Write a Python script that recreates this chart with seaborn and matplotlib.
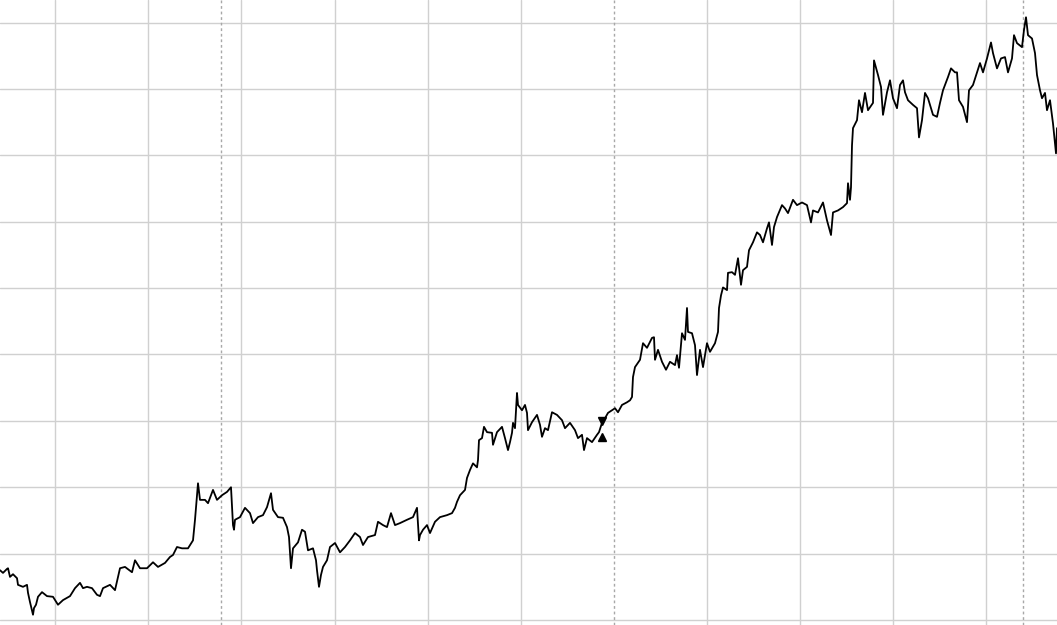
import numpy as np
import matplotlib
matplotlib.use("Agg")
import matplotlib.pyplot as plt
import seaborn as sns

# trading day index and closing value
days = [0, 3, 7, 8, 10, 13, 17, 18, 23, 27, 28, 30, 33, 34, 36, 38, 42, 47, 53, 58,
        63, 70, 75, 80, 83, 87, 92, 97, 100, 103, 110, 115, 120, 125, 132, 135, 140, 147, 153, 158,
        165, 170, 173, 177, 182, 188, 193, 195, 197, 198, 200, 205, 208, 213, 217, 222, 227, 231, 233, 234,
        235, 240, 245, 250, 253, 258, 263, 267, 271, 273, 278, 283, 287, 289, 291, 293, 298, 302, 305, 308,
        313, 316, 317, 319, 321, 323, 327, 330, 335, 340, 345, 350, 355, 360, 363, 368, 375, 378, 383, 387,
        391, 395, 400, 407, 413, 417, 419, 420, 423, 427, 430, 435, 440, 447, 452, 455, 457, 460, 465, 467,
        470, 473, 477, 478, 479, 482, 484, 487, 492, 493, 497, 502, 505, 508, 510, 512, 513, 515, 517, 518,
        522, 525, 527, 528, 532, 537, 540, 542, 545, 548, 552, 557, 562, 565, 570, 575, 578, 582, 584, 587,
        592, 597, 599, 602, 605, 608, 612, 615, 618, 622, 627, 630, 632, 633, 635, 640, 643, 647, 652, 654,
        655, 658, 662, 666, 670, 675, 677, 679, 682, 685, 687, 688, 692, 695, 697, 700, 703, 707, 710, 715,
        718, 719, 721, 723, 727, 728, 732, 735, 738, 741, 743, 747, 749, 753, 757, 760, 763, 767, 769, 772,
        774, 777, 782, 785, 788, 793, 797, 802, 807, 811, 813, 818, 823, 827, 831, 833, 838, 843, 847, 848,
        850, 851, 852, 853, 857, 859, 862, 865, 868, 873, 874, 878, 881, 883, 887, 890, 893, 897, 900, 903,
        905, 908, 913, 917, 919, 922, 925, 928, 933, 937, 940, 943, 948, 951, 955, 957, 959, 963, 967, 969,
        973, 977, 980, 983, 987, 991, 993, 997, 1001, 1005, 1008, 1012, 1014, 1017, 1022, 1024, 1026, 1028, 1032, 1035,
        1037, 1040, 1042, 1045, 1047, 1050, 1053, 1055, 1056, 1057]

prices = [17.5, 17.1, 17.7, 17.8, 16.5, 16.9, 16.3, 15.3, 15.0, 15.3, 14.1, 12.7, 10.8, 11.8, 12.3, 13.5, 14.2, 13.6, 13.5, 12.3,
          13.0, 13.6, 14.8, 15.6, 14.8, 15.0, 14.8, 13.8, 13.6, 14.8, 15.3, 14.5, 17.8, 18.0, 17.2, 19.0, 17.8, 17.8, 18.7, 18.0,
          18.6, 19.5, 19.8, 21.0, 20.8, 20.8, 22.0, 25.1, 28.8, 30.6, 28.1, 28.1, 27.6, 29.6, 28.1, 28.8, 29.3, 30.0, 24.3, 23.6,
          25.1, 25.5, 26.9, 26.1, 24.6, 25.5, 25.8, 27.0, 29.1, 26.6, 25.5, 25.4, 24.0, 22.5, 17.8, 20.8, 21.7, 23.6, 23.3, 20.5,
          20.8, 19.0, 17.5, 15.0, 16.8, 18.0, 19.0, 21.0, 21.6, 20.2, 21.0, 22.0, 23.1, 22.5, 21.3, 22.5, 22.8, 24.8, 24.3, 24.0,
          26.1, 24.3, 24.6, 25.1, 25.5, 26.9, 22.0, 22.8, 23.6, 24.3, 23.1, 24.8, 25.5, 25.8, 26.1, 26.9, 27.8, 28.8, 29.6, 31.4,
          32.6, 33.6, 33.0, 34.1, 37.1, 37.4, 39.1, 38.3, 38.2, 36.4, 38.3, 39.1, 37.4, 35.6, 36.8, 38.2, 39.7, 38.9, 44.2, 42.4,
          41.6, 42.4, 41.2, 38.6, 39.8, 40.9, 39.4, 37.6, 38.9, 38.6, 41.3, 40.9, 40.1, 38.9, 39.7, 38.6, 37.4, 37.9, 35.6, 37.4,
          36.8, 37.9, 38.3, 39.7, 40.4, 41.2, 41.6, 41.9, 41.3, 42.4, 42.8, 43.1, 43.6, 46.6, 48.1, 49.2, 51.7, 51.0, 52.5, 52.6,
          49.2, 50.7, 48.9, 47.7, 48.9, 48.4, 49.9, 48.0, 53.2, 52.2, 57.0, 53.4, 53.2, 51.4, 46.9, 50.7, 48.1, 51.7, 50.4, 51.7,
          53.4, 57.0, 58.9, 60.1, 59.7, 62.3, 62.4, 62.0, 64.5, 60.5, 62.7, 63.2, 65.7, 66.9, 68.4, 68.0, 66.9, 69.0, 69.9, 66.5,
          69.2, 70.7, 72.5, 72.0, 71.3, 73.3, 72.5, 72.9, 72.5, 69.9, 71.7, 71.4, 72.9, 70.2, 68.0, 71.4, 71.7, 72.2, 72.8, 75.8,
          73.3, 75.2, 81.5, 84.1, 85.3, 88.3, 86.5, 89.4, 86.8, 87.9, 94.3, 92.1, 90.3, 86.1, 89.5, 91.3, 88.6, 87.1, 90.6, 91.3,
          89.5, 88.3, 87.6, 87.1, 82.7, 85.3, 89.4, 88.6, 86.1, 85.8, 87.9, 89.8, 91.8, 93.1, 92.5, 92.5, 88.3, 87.3, 85.0, 89.8,
          90.6, 92.5, 93.9, 92.5, 94.6, 97.0, 95.4, 93.1, 94.6, 94.8, 92.5, 94.6, 98.1, 96.9, 96.3, 98.9, 100.8, 98.1, 97.6, 95.4,
          92.1, 89.8, 88.6, 89.4, 86.8, 88.3, 84.8, 81.8, 80.3, 84.1]

# signal markers
sell_day, sell_price = [602], [40.0]
buy_day, buy_price = [602], [37.6]

# period separators and grid positions
period_days = [221, 614, 1023]
grid_days = [55, 148, 241, 335, 428, 521, 707, 800, 893, 986]
grid_prices = [10, 20, 30, 40, 50, 60, 70, 80, 90, 100]

sns.set_theme(style="white")

fig = plt.figure(figsize=(10.57, 6.25), dpi=100)
ax = fig.add_axes([0, 0, 1, 1])

for d in grid_days:
    ax.axvline(d, color="#d0d0d0", lw=1, zorder=0)
for p in grid_prices:
    ax.axhline(p, color="#d0d0d0", lw=1, zorder=0)
for d in period_days:
    ax.axvline(d, color="#a8a8a8", lw=1, ls=(0, (2, 2)), zorder=1)

sns.lineplot(x=days, y=prices, ax=ax, color="black", lw=1.3,
             estimator=None, sort=False, zorder=3)
ax.plot(sell_day, sell_price, marker="v", color="black", ms=6, ls="none", zorder=4)
ax.plot(buy_day, buy_price, marker="^", color="black", ms=6, ls="none", zorder=4)

ax.set_xlim(min(days), max(days))
ax.set_ylim(9.25, 103.4)
ax.set_xticks([])
ax.set_yticks([])
ax.set_xlabel("")
ax.set_ylabel("")
for s in ax.spines.values():
    s.set_visible(False)

fig.savefig("out.png", dpi=100)
